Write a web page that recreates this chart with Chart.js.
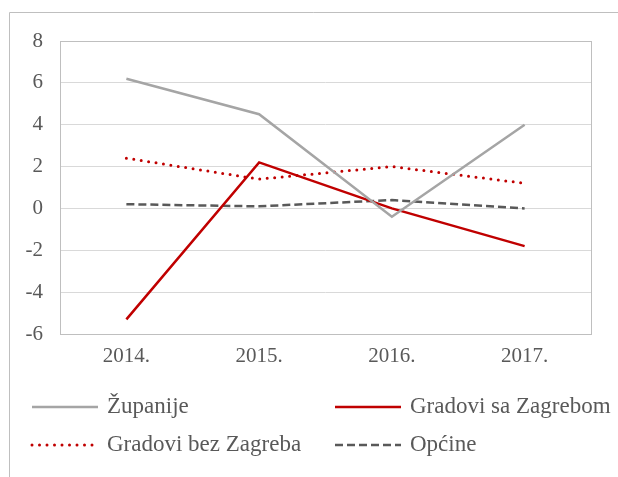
<!DOCTYPE html>
<html>
<head>
<meta charset="utf-8">
<script src="https://cdn.jsdelivr.net/npm/chart.js@4"></script>
<style>
  html, body { margin: 0; padding: 0; background: #fff; }
  #wrap { width: 618px; height: 477px; }
</style>
</head>
<body>
<div id="wrap"><canvas id="myChart" width="618" height="477"></canvas></div>
<script>
var years = ["2014.", "2015.", "2016.", "2017."];
var zupanije = [6.2, 4.5, -0.4, 4.0];
var gradoviSaZagrebom = [-5.3, 2.2, 0.0, -1.8];
var gradoviBezZagreba = [2.4, 1.4, 2.0, 1.2];
var opcine = [0.2, 0.1, 0.4, 0.0];
var yTicks = [-6, -4, -2, 0, 2, 4, 6, 8];

var textColor = '#595959';
var fontFamily = '"Liberation Serif", serif';

// outer frame and plot box
var framePlugin = {
	id: 'frame',
	beforeDraw: function(chart) {
		var ctx = chart.ctx;
		ctx.save();
		ctx.strokeStyle = '#bfbfbf';
		ctx.lineWidth = 1;
		ctx.beginPath();
		ctx.moveTo(9.5, 477);
		ctx.lineTo(9.5, 12.5);
		ctx.lineTo(618, 12.5);
		ctx.stroke();
		ctx.restore();
	},
	beforeDatasetsDraw: function(chart) {
		var a = chart.chartArea;
		var ctx = chart.ctx;
		ctx.save();
		ctx.strokeStyle = '#bfbfbf';
		ctx.lineWidth = 1;
		ctx.strokeRect(Math.round(a.left) + 0.5, Math.round(a.top) + 0.5,
			Math.round(a.right - a.left), Math.round(a.bottom - a.top));
		ctx.restore();
	}
};

// two-column legend under the plot
var legendPlugin = {
	id: 'gridLegend',
	afterDraw: function(chart) {
		var ctx = chart.ctx;
		var spots = [
			{ x: 32, y: 407 }, { x: 335, y: 407 },
			{ x: 32, y: 445 }, { x: 335, y: 445 }
		];
		ctx.save();
		chart.data.datasets.forEach(function(ds, i) {
			var p = spots[i];
			ctx.beginPath();
			ctx.strokeStyle = ds.borderColor;
			ctx.lineWidth = ds.borderWidth;
			ctx.lineCap = ds.borderCapStyle || 'butt';
			ctx.setLineDash(ds.borderDash || []);
			ctx.moveTo(p.x, p.y);
			ctx.lineTo(p.x + 66, p.y);
			ctx.stroke();
			ctx.setLineDash([]);
			ctx.fillStyle = textColor;
			ctx.font = '23px ' + fontFamily;
			ctx.textBaseline = 'middle';
			ctx.fillText(ds.label, p.x + 75, p.y);
		});
		ctx.restore();
	}
};

var ctx = document.getElementById('myChart');
var myChart = new Chart(ctx, {
	type: 'line',
	data: {
		labels: years,
		datasets: [{
			label: 'Županije',
			data: zupanije,
			borderColor: '#a5a5a5',
			borderWidth: 2.5,
			pointRadius: 0
		}, {
			label: 'Gradovi sa Zagrebom',
			data: gradoviSaZagrebom,
			borderColor: '#c00000',
			borderWidth: 2.5,
			pointRadius: 0
		}, {
			label: 'Gradovi bez Zagreba',
			data: gradoviBezZagreba,
			borderColor: '#c00000',
			borderWidth: 3,
			borderDash: [0, 7.5],
			borderCapStyle: 'round',
			pointRadius: 0
		}, {
			label: 'Općine',
			data: opcine,
			borderColor: '#595959',
			borderWidth: 2.5,
			borderDash: [8, 4],
			pointRadius: 0
		}]
	},
	options: {
		responsive: false,
		animation: false,
		layout: { padding: { left: 0, top: 41, right: 27, bottom: 103 } },
		plugins: {
			legend: { display: false },
			tooltip: { enabled: false }
		},
		scales: {
			x: {
				offset: true,
				grid: { display: false, drawTicks: false },
				border: { display: false },
				ticks: { color: textColor, font: { family: fontFamily, size: 21 }, padding: 10, maxRotation: 0 },
				afterFit: function(scale) { scale.height = 40; }
			},
			y: {
				min: -6,
				max: 8,
				afterBuildTicks: function(scale) {
					scale.ticks = yTicks.map(function(v) { return { value: v }; });
				},
				grid: { color: '#d9d9d9', drawTicks: false },
				border: { display: false },
				ticks: { color: textColor, font: { family: fontFamily, size: 21 }, padding: 17 },
				afterFit: function(scale) { scale.width = 60; }
			}
		}
	},
	plugins: [framePlugin, legendPlugin]
});
</script>
</body>
</html>
